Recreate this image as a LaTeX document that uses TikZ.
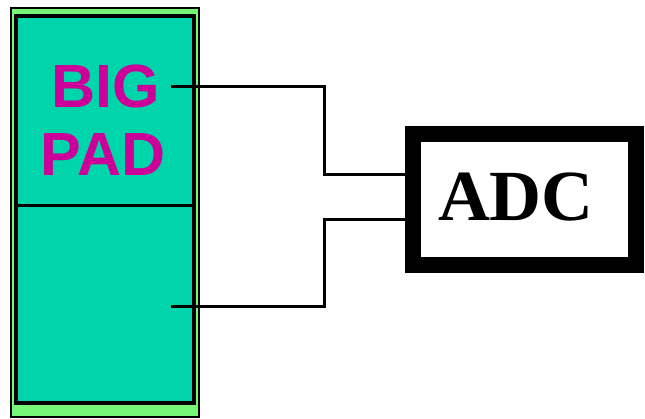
\documentclass[tikz,border=0pt]{standalone}
\usepackage{fontspec}
\newfontfamily\padfont{Liberation Sans}
\newfontfamily\adcfont{Liberation Serif}
\definecolor{padgreen}{RGB}{119,247,119}
\definecolor{padteal}{RGB}{0,212,170}
\definecolor{padmag}{RGB}{204,0,153}
\begin{document}
\begin{tikzpicture}[x=1pt,y=-1pt,
  wire/.style={line width=3pt, line join=miter},
  padtext/.style={text=padmag, font=\padfont\bfseries\fontsize{61}{68}\selectfont, anchor=base, inner sep=0pt}]
\useasboundingbox (0,0) rectangle (645,418);
\node[draw=black, line width=2pt, fill=padgreen, minimum width=188pt, minimum height=409pt, inner sep=0pt] (outer) at (105,212.5) {};
\node[draw=black, line width=3.5pt, fill=padteal, minimum width=178pt, minimum height=387pt, inner sep=0pt] (inner) at (105,209.5) {};
\coordinate (divL) at (inner.west |- 0,205);
\coordinate (divR) at (inner.east |- 0,205);
\draw[line width=3pt] (divL) -- (divR);
\node[padtext] (big) at (106,107) {BIG};
\node[padtext] (pad) at (103,175) {PAD};
\node[draw=black, line width=16pt, fill=white, minimum width=223pt, minimum height=131pt, inner sep=0pt] (adc) at (524.5,199.5) {};
\node[anchor=base, inner sep=0pt, font=\adcfont\bfseries\fontsize{72}{80}\selectfont] (adctext) at (516,220) {ADC};
\coordinate (p1) at (171,86);
\coordinate (p2) at (171,306);
\draw[wire] (p1) -- (324,86) -- (324,174) -- (adc.west |- 0,174);
\draw[wire] (p2) -- (324,306) -- (324,219) -- (adc.west |- 0,219);
\end{tikzpicture}
\end{document}
